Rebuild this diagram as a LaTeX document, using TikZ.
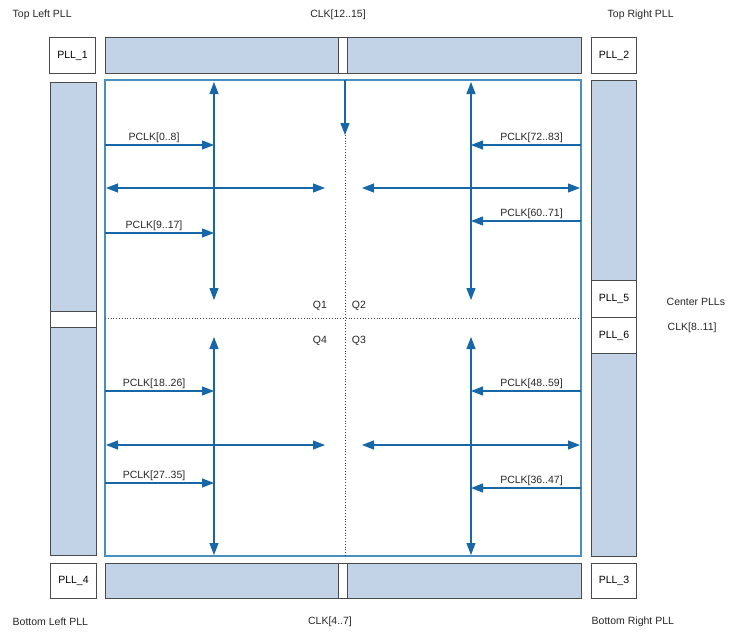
\documentclass[tikz,border=0pt]{standalone}
\usepackage{fontspec}
\setmainfont{Liberation Sans}
\usepackage{tikz}
\usetikzlibrary{arrows.meta}
\definecolor{barfill}{HTML}{C2D3E7}
\definecolor{bardraw}{HTML}{4A4A4A}
\definecolor{framecol}{HTML}{4A8FC2}
\definecolor{arrowcol}{HTML}{1766A8}

\tikzset{
  bar/.style={draw=bardraw, fill=barfill, line width=0.9pt, inner sep=0pt, anchor=north west},
  pllbox/.style={draw=bardraw, fill=white, line width=0.9pt, inner sep=0pt, anchor=north west},
  clkarrow/.style={draw=arrowcol, line width=1.1pt, -{Triangle[length=12pt,width=9pt]}},
  bothway/.style={draw=arrowcol, line width=1.1pt, {Triangle[length=12pt,width=9pt]}-{Triangle[length=12pt,width=9pt]}},
  quad/.style={draw=black!75, dotted, line width=0.8pt},
  lbl/.style={font=\fontsize{10.5}{12}\selectfont, text=black!85, inner sep=1.5pt}
}

\begin{document}
\begin{tikzpicture}[x=1pt, y=-1pt]
  \useasboundingbox (0,0) rectangle (729,633);

  % Barres du haut
  \node[pllbox, minimum width=46, minimum height=36] (pll1) at (49,37) {\fontsize{10.5}{12}\selectfont PLL\_1};
  \node[bar, minimum width=233, minimum height=36] (topL) at (105,37) {};
  \node[pllbox, minimum width=9, minimum height=36] (topgap) at (338,37) {};
  \node[bar, minimum width=234, minimum height=36] (topR) at (347,37) {};
  \node[pllbox, minimum width=45, minimum height=36] (pll2) at (591,37) {\fontsize{10.5}{12}\selectfont PLL\_2};

  % Barres de gauche et de droite
  \node[bar, minimum width=46, minimum height=229] (leftT) at (50,82) {};
  \node[pllbox, minimum width=46, minimum height=16] (leftgap) at (50,311) {};
  \node[bar, minimum width=46, minimum height=228] (leftB) at (50,327) {};
  \node[bar, minimum width=45, minimum height=200] (rightT) at (591,80) {};
  \node[pllbox, minimum width=45, minimum height=37] (pll5) at (591,280) {\fontsize{10.5}{12}\selectfont PLL\_5};
  \node[pllbox, minimum width=45, minimum height=36] (pll6) at (591,317) {\fontsize{10.5}{12}\selectfont PLL\_6};
  \node[bar, minimum width=45, minimum height=203] (rightB) at (591,353) {};

  % Barres du bas
  \node[pllbox, minimum width=46, minimum height=35] (pll4) at (50,563) {\fontsize{10.5}{12}\selectfont PLL\_4};
  \node[bar, minimum width=233, minimum height=35] (botL) at (105,563) {};
  \node[pllbox, minimum width=9, minimum height=35] (botgap) at (338,563) {};
  \node[bar, minimum width=234, minimum height=35] (botR) at (347,563) {};
  \node[pllbox, minimum width=45, minimum height=35] (pll3) at (591,563) {\fontsize{10.5}{12}\selectfont PLL\_3};

  % Cadre et quadrants
  \node[draw=framecol, line width=1.1pt, inner sep=0pt, outer sep=0pt, anchor=north west,
        minimum width=476, minimum height=476] (frame) at (105,80) {};
  \draw[quad] (frame.west |- 0,318) -- (frame.east |- 0,318);
  \draw[quad] (345,135) -- (345,556);
  \draw[clkarrow] (345,80) -- (345,135);

  % Troncs verticaux
  \coordinate (ltA) at (214,82);  \coordinate (ltB) at (214,300);
  \coordinate (lbA) at (214,337); \coordinate (lbB) at (214,555);
  \coordinate (rtA) at (471,82);  \coordinate (rtB) at (471,300);
  \coordinate (rbA) at (471,337); \coordinate (rbB) at (471,555);
  \draw[bothway] (ltA) -- (ltB);
  \draw[bothway] (lbA) -- (lbB);
  \draw[bothway] (rtA) -- (rtB);
  \draw[bothway] (rbA) -- (rbB);

  % Horloges PCLK
  \draw[clkarrow] (frame.west |- 0,145) -- node[pos=0.45, above, lbl] {PCLK[0..8]} (ltA |- 0,145);
  \draw[clkarrow] (frame.west |- 0,233) -- node[pos=0.45, above, lbl] {PCLK[9..17]} (ltA |- 0,233);
  \draw[clkarrow] (frame.west |- 0,391) -- node[pos=0.45, above, lbl] {PCLK[18..26]} (lbA |- 0,391);
  \draw[clkarrow] (frame.west |- 0,483) -- node[pos=0.45, above, lbl] {PCLK[27..35]} (lbA |- 0,483);
  \draw[clkarrow] (frame.east |- 0,145) -- node[pos=0.45, above, lbl] {PCLK[72..83]} (rtA |- 0,145);
  \draw[clkarrow] (frame.east |- 0,221) -- node[pos=0.45, above, lbl] {PCLK[60..71]} (rtA |- 0,221);
  \draw[clkarrow] (frame.east |- 0,391) -- node[pos=0.45, above, lbl] {PCLK[48..59]} (rbA |- 0,391);
  \draw[clkarrow] (frame.east |- 0,488) -- node[pos=0.45, above, lbl] {PCLK[36..47]} (rbA |- 0,488);

  % Liaisons horizontales
  \draw[bothway] (106,188) -- (325,188);
  \draw[bothway] (106,445) -- (325,445);
  \draw[bothway] (362,188) -- (580,188);
  \draw[bothway] (362,445) -- (580,445);

  % Quadrants
  \node[lbl] (q1) at (320,306) {Q1};
  \node[lbl] (q2) at (359,306) {Q2};
  \node[lbl] (q4) at (320,341) {Q4};
  \node[lbl] (q3) at (359,341) {Q3};

  % Etiquettes
  \node[lbl, anchor=west] (tl) at (11,15) {Top Left PLL};
  \node[lbl] (ctop) at (338,15) {CLK[12..15]};
  \node[lbl, anchor=west] (tr) at (606,15) {Top Right PLL};
  \node[lbl, anchor=west] (cpll) at (665,302) {Center PLLs};
  \node[lbl, anchor=west] (cmid) at (666,328) {CLK[8..11]};
  \node[lbl, anchor=west] (bl) at (11,622) {Bottom Left PLL};
  \node[lbl] (cbot) at (330,622) {CLK[4..7]};
  \node[lbl, anchor=west] (br) at (590,622) {Bottom Right PLL};
\end{tikzpicture}
\end{document}
